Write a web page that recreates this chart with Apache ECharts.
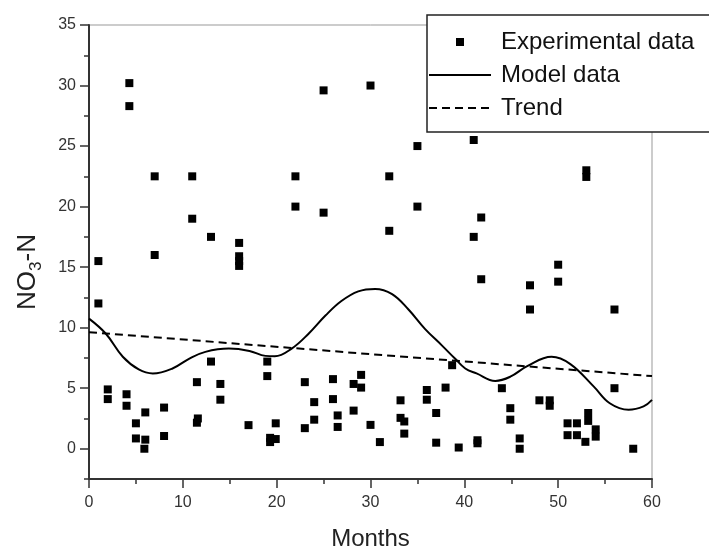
<!DOCTYPE html>
<html>
<head>
<meta charset="utf-8">
<script src="https://cdn.jsdelivr.net/npm/echarts@6/dist/echarts.min.js"></script>
<style>html,body{margin:0;padding:0;background:#fff}#c{width:709px;height:556px}</style>
</head>
<body>
<div id="c"></div>
<script>
// Experimental data (months, NO3-N)
const expX = [1, 1, 2, 2, 4, 4, 4.3, 4.3, 5, 5, 6, 6, 5.9, 7, 7, 8, 8, 11, 11, 11.5, 11.6, 11.5, 13, 13, 14, 14,
  16, 16, 16, 16, 17, 19, 19, 19.3, 19.3, 19.9, 19.9, 22, 22, 23, 23, 24, 24, 25, 25, 26, 26, 26.5, 26.5,
  28.2, 28.2, 29, 29, 30, 30, 31, 32, 32, 33.2, 33.2, 33.6, 33.6, 35, 35, 36, 36, 37, 37, 38, 38.7, 39.4,
  41, 41, 41.8, 41.8, 41.4, 41.4, 44, 44.9, 44.9, 45.9, 45.9, 47, 47, 48, 49.1, 49.1, 50, 50, 51, 51, 52, 52,
  52.9, 53, 53, 53.2, 53.2, 54, 54, 56, 56, 58];
const expY = [15.5, 12.0, 4.9, 4.1, 4.5, 3.55, 30.2, 28.3, 2.1, 0.85, 3.0, 0.75, 0.0, 22.5, 16.0, 3.4, 1.05, 22.5, 19.0, 5.5, 2.5, 2.15, 17.5, 7.2, 5.35, 4.05,
  17.0, 15.9, 15.5, 15.1, 1.95, 7.2, 6.0, 0.9, 0.55, 2.1, 0.8, 22.5, 20.0, 5.5, 1.7, 3.85, 2.4, 29.6, 19.5, 5.75, 4.1, 2.75, 1.8,
  5.35, 3.15, 6.1, 5.05, 30.0, 1.97, 0.55, 22.5, 18.0, 4.0, 2.55, 2.25, 1.25, 25.0, 20.0, 4.85, 4.05, 2.95, 0.5, 5.05, 6.9, 0.1,
  25.5, 17.5, 19.1, 14.0, 0.7, 0.45, 5.0, 3.35, 2.4, 0.85, 0.0, 13.5, 11.5, 4.0, 4.0, 3.55, 15.2, 13.8, 2.1, 1.12, 2.1, 1.12,
  0.57, 23.0, 22.45, 2.95, 2.3, 1.6, 1.0, 11.5, 5.0, 0.0];
// Model curve
const modelX = [0, 1.8, 3.6, 5.3, 6.8, 8.9, 10.7, 12.4, 14.9, 17.1, 18.8, 19.8, 21.6, 23.4, 25.2, 26.9, 28.7, 30.5,
  32.3, 34.0, 35.8, 37.6, 39.0, 40.1, 41.3, 43.3, 44.9, 46.7, 49.3, 51.3, 53.8, 55.5, 57.5, 59.1, 60];
const modelY = [10.75, 9.5, 7.6, 6.55, 6.22, 6.63, 7.45, 8.0, 8.27, 8.08, 7.67, 7.64, 8.27, 9.5, 11.0, 12.2, 13.0, 13.2,
  12.77, 11.54, 9.9, 8.54, 7.45, 6.63, 6.22, 5.6, 5.95, 6.82, 7.59, 6.99, 5.13, 3.76, 3.22, 3.5, 4.04];
// Trend line
const trendX = [0, 60];
const trendY = [9.63, 6.0];
// Tick labels
const xTicks = [0, 10, 20, 30, 40, 50, 60];
const yTicks = [0, 5, 10, 15, 20, 25, 30, 35];
const yMinorTicks = [-2.5, 2.5, 7.5, 12.5, 17.5, 22.5, 27.5, 32.5];
const seriesNames = ['Experimental data', 'Model data', 'Trend'];

const zip = (xs, ys) => xs.map((x, i) => [x, ys[i]]);
const FONT = 'Liberation Sans, Arial, sans-serif';
const chart = echarts.init(document.getElementById('c'), null, {renderer: 'canvas'});
chart.setOption({
  animation: false,
  backgroundColor: '#fff',
  grid: {left: 89, right: 57, top: 25, bottom: 73, show: true, borderColor: '#999', borderWidth: 1, backgroundColor: 'transparent'},
  xAxis: {
    type: 'value', min: xTicks[0], max: xTicks[xTicks.length - 1], interval: 10,
    name: 'Months', nameLocation: 'middle', nameGap: 48,
    nameTextStyle: {fontSize: 24, fontFamily: FONT, color: '#222'},
    axisLine: {onZero: false, lineStyle: {color: '#333', width: 2}},
    axisTick: {length: 9, lineStyle: {color: '#333', width: 1.5}},
    minorTick: {show: true, splitNumber: 2, length: 5, lineStyle: {color: '#333', width: 1.5}},
    axisLabel: {margin: 16, fontSize: 16, fontFamily: FONT, color: '#333'},
    splitLine: {show: false}
  },
  yAxis: [{
    type: 'value', min: -2.5, max: 35,
    name: '{n|NO}{s|3}{n|-N}', nameLocation: 'middle', nameGap: 46,
    nameTextStyle: {
      fontFamily: FONT, color: '#222', padding: [0, 40, 0, 0],
      rich: {
        n: {fontSize: 26, fontFamily: FONT, color: '#222', lineHeight: 30},
        s: {fontSize: 17, fontFamily: FONT, color: '#222', lineHeight: 17, padding: [16, 0, 0, 0]}
      }
    },
    axisLine: {onZero: false, lineStyle: {color: '#333', width: 2}},
    axisTick: {customValues: yTicks, length: 9, lineStyle: {color: '#333', width: 1.5}},
    axisLabel: {customValues: yTicks, margin: 13, fontSize: 16, fontFamily: FONT, color: '#333'},
    splitLine: {show: false}
  }, {
    type: 'value', min: -2.5, max: 35, position: 'left',
    axisLine: {show: false},
    axisTick: {customValues: yMinorTicks, length: 5, lineStyle: {color: '#333', width: 1.5}},
    axisLabel: {show: false},
    splitLine: {show: false}
  }],
  graphic: [{
    type: 'rect', z: 100,
    shape: {x: 427, y: 15, width: 330, height: 117},
    style: {fill: '#fff', stroke: '#222', lineWidth: 1.5}
  }],
  legend: {
    z: 101, left: 428, top: 29, orient: 'vertical', padding: 0,
    itemWidth: 62, itemHeight: 8, itemGap: 7, symbolKeepAspect: true,
    data: [
      {name: seriesNames[0], icon: 'path://M0,0H10V10H0Z', itemStyle: {color: '#000', opacity: 1}},
      {name: seriesNames[1], itemStyle: {opacity: 0}},
      {name: seriesNames[2], itemStyle: {opacity: 0}}
    ],
    textStyle: {fontSize: 24, fontFamily: FONT, color: '#111', lineHeight: 26, padding: [0, 0, 0, 5]}
  },
  series: [{
    name: seriesNames[0], type: 'scatter', symbol: 'rect', symbolSize: 8,
    itemStyle: {color: '#000', opacity: 1}, data: zip(expX, expY), z: 3
  }, {
    name: seriesNames[1], type: 'line', smooth: 0.4, symbol: 'none', showSymbol: false,
    lineStyle: {color: '#000', width: 2}, itemStyle: {color: '#000'}, data: zip(modelX, modelY)
  }, {
    name: seriesNames[2], type: 'line', symbol: 'none', showSymbol: false,
    lineStyle: {color: '#000', width: 2, type: [8, 5]}, itemStyle: {color: '#000'}, data: zip(trendX, trendY)
  }]
});
</script>
</body>
</html>
